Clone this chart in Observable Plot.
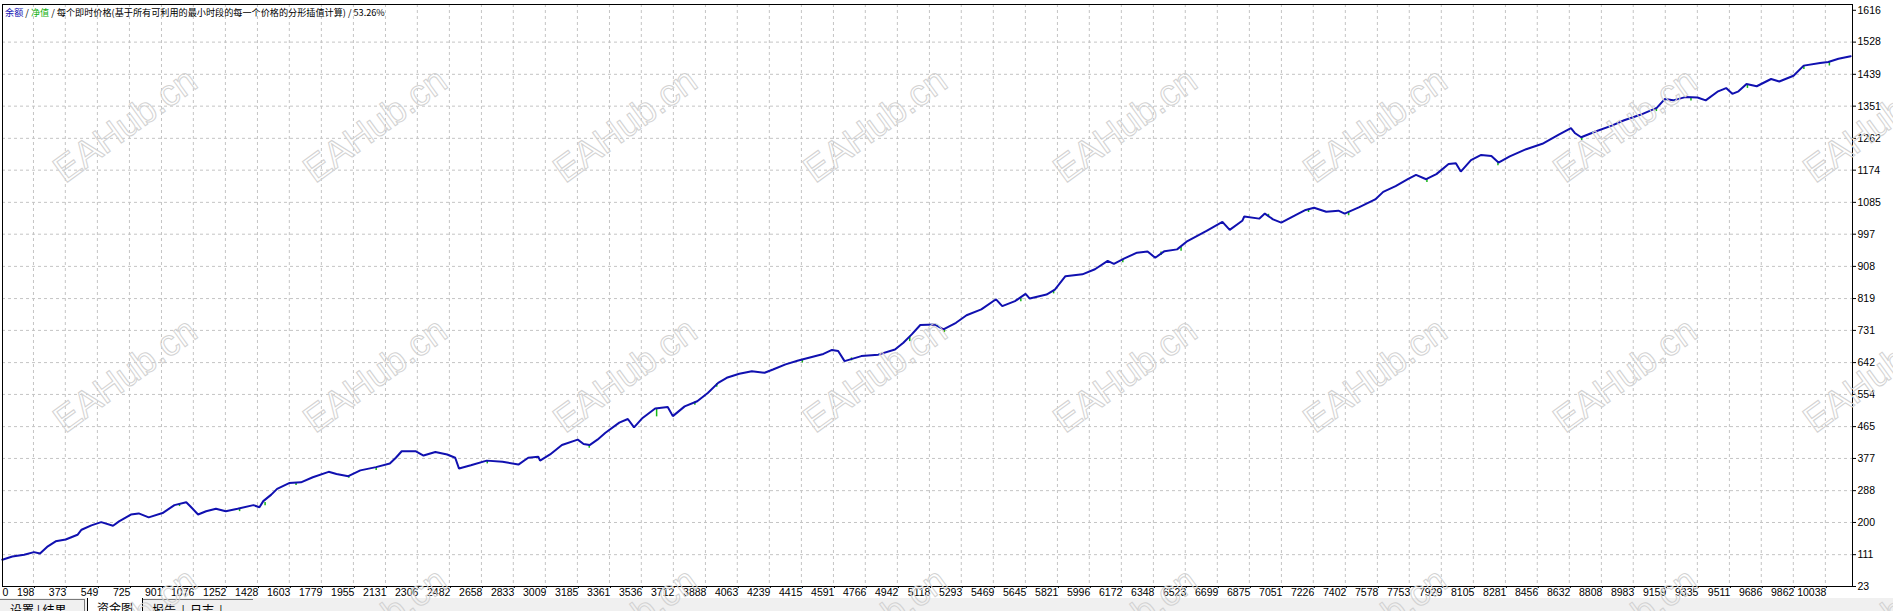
<!DOCTYPE html>
<html>
<head>
<meta charset="utf-8">
<script src="https://cdn.jsdelivr.net/npm/d3@7"></script>
<script src="https://cdn.jsdelivr.net/npm/@observablehq/plot@0.6"></script>
<style>
  html, body { margin: 0; padding: 0; background: #fff; }
  #wrap { position: relative; width: 1893px; height: 611px; overflow: hidden; background: #fff; }
  #chart { position: absolute; left: 0; top: 0; }
  #title { position: absolute; left: 5px; top: 7px; font-family: "Noto Sans CJK SC", sans-serif; font-size: 10px; line-height: 11px; white-space: nowrap; color: #000; }
  #tabs { position: absolute; left: 0; top: 598px; width: 1893px; height: 13px; background: #f0f0f0; }
  .tab { position: absolute; top: 1px; height: 16px; font-family: "Noto Sans CJK SC", sans-serif; font-size: 12px; line-height: 16px; padding-top: 2px; color: #000; white-space: pre; box-sizing: border-box; }
  #wm { position: absolute; left: 0; top: 0; pointer-events: none; }
</style>
</head>
<body>
<div id="wrap">
  <div id="chart"></div>
  <div id="title"><span style="color:#1414b4">余额</span> / <span style="color:#10b010">净值</span> / 每个即时价格(基于所有可利用的最小时段的每一个价格的分形插值计算) / 53.26%</div>
  <div id="tabs">
    <div class="tab" style="left:0;width:85px;border-top:1px solid #7a7a7a;border-right:1px solid #7a7a7a;padding-left:10px;">设置 | 结果</div>
    <div class="tab" style="left:87px;top:0;width:56px;height:17px;background:#fff;border-left:1px solid #000;border-right:1px solid #000;padding-left:9px;">资金图</div>
    <div class="tab" style="left:143px;width:110px;border-top:1px solid #7a7a7a;padding-left:9px;">报告  |  日志  |</div>
  </div>
</div>
<script>
// ---------- data ----------
const balanceX = [
  27, 82, 147, 201, 234, 277, 320, 375, 440, 462, 516, 570, 635, 668, 733, 776, 831, 907, 972, 1037,
  1059, 1102, 1146, 1200, 1254, 1319, 1406, 1439, 1460, 1504, 1536, 1602, 1667, 1732, 1819, 1862, 1927, 1993, 2079, 2155,
  2188, 2220, 2296, 2340, 2405, 2470, 2514, 2535, 2600, 2687, 2774, 2861, 2915, 2970, 2980, 3035, 3100, 3187, 3219, 3252,
  3295, 3339, 3415, 3462, 3496, 3543, 3612, 3681, 3709, 3774, 3843, 3901, 3958, 4005, 4074, 4143, 4213, 4259, 4328, 4398,
  4467, 4536, 4583, 4617, 4652, 4744, 4837, 4929, 4975, 5021, 5068, 5149, 5195, 5264, 5322, 5403, 5484, 5518, 5588, 5646,
  5669, 5761, 5807, 5865, 5958, 6027, 6097, 6131, 6189, 6258, 6316, 6358, 6409, 6478, 6535, 6640, 6727, 6767, 6836, 6847,
  6929, 6960, 7005, 7050, 7118, 7184, 7230, 7297, 7364, 7398, 7476, 7566, 7610, 7678, 7745, 7790, 7846, 7902, 7969, 8009,
  8036, 8092, 8148, 8204, 8243, 8305, 8395, 8484, 8574, 8641, 8664, 8697, 8776, 8865, 8933, 9022, 9112, 9157, 9202, 9269,
  9336, 9381, 9449, 9493, 9527, 9561, 9605, 9661, 9740, 9785, 9863, 9919, 10009, 10054, 10110, 10177
];
const balanceV = [
  97, 106, 111, 118, 114, 134, 148, 153, 166, 180, 192, 201, 191, 203, 222, 225, 214, 226, 248, 256,
  245, 222, 231, 238, 231, 238, 248, 242, 259, 277, 293, 309, 311, 325, 340, 334, 328, 344, 353, 363,
  379, 397, 397, 385, 395, 388, 379, 349, 358, 371, 368, 360, 379, 382, 371, 388, 414, 429, 417, 414,
  429, 448, 476, 486, 463, 489, 515, 519, 494, 521, 535, 558, 586, 600, 611, 618, 614, 623, 637, 648,
  657, 666, 677, 674, 646, 660, 664, 678, 697, 720, 746, 747, 734, 752, 773, 789, 817, 798, 812, 832,
  819, 830, 844, 881, 886, 900, 923, 915, 930, 946, 949, 932, 950, 955, 978, 1006, 1031, 1009, 1034, 1046,
  1040, 1054, 1038, 1029, 1047, 1064, 1070, 1059, 1062, 1054, 1071, 1093, 1114, 1130, 1149, 1161, 1149, 1163, 1191, 1193,
  1170, 1202, 1216, 1213, 1195, 1212, 1232, 1247, 1272, 1290, 1276, 1265, 1281, 1297, 1312, 1327, 1346, 1371, 1367, 1376,
  1375, 1367, 1392, 1401, 1385, 1392, 1412, 1406, 1426, 1419, 1435, 1463, 1470, 1473, 1482, 1489
];
// equity dips below the balance line (green spikes)
const dipX      = [1000, 1330, 1470, 1640, 1930, 2080, 2690, 3250, 3620, 3830, 3950, 4420, 4690, 5010, 5200, 5620, 5800, 6180, 6390, 6500, 6980, 7200, 7420, 7850, 8240, 8700, 9110, 9300, 9610, 9920, 10060];
const dipTop    = [252, 238, 255, 310, 330, 352, 370, 414, 515, 533, 584, 650, 655, 712, 735, 820, 842, 928, 948, 960, 1052, 1066, 1058, 1150, 1196, 1266, 1346, 1375, 1410, 1462, 1472];
const dipBottom = [244, 230, 246, 302, 322, 344, 362, 405, 492, 524, 574, 641, 647, 700, 725, 810, 832, 918, 938, 950, 1043, 1057, 1048, 1140, 1186, 1256, 1336, 1365, 1400, 1452, 1462];

const xTickLabels = [198, 373, 549, 725, 901, 1076, 1252, 1428, 1603, 1779, 1955, 2131, 2306, 2482, 2658, 2833, 3009, 3185, 3361, 3536,
  3712, 3888, 4063, 4239, 4415, 4591, 4766, 4942, 5118, 5293, 5469, 5645, 5821, 5996, 6172, 6348, 6523, 6699, 6875, 7051,
  7226, 7402, 7578, 7753, 7929, 8105, 8281, 8456, 8632, 8808, 8983, 9159, 9335, 9511, 9686, 9862, 10038];
const yTickLabels = [23, 111, 200, 288, 377, 465, 554, 642, 731, 819, 908, 997, 1085, 1174, 1262, 1351, 1439, 1528, 1616];
const xDomain = [28, 10187];
const yDomain = [23, 1632];
const firstXLabel = "0";

const watermarkText = "EAHub.cn";
const wmCols = [0, 1, 2, 3, 4, 5, 6, 7];
const wmRows = [0, 1, 2];

// ---------- build ----------
const balance = balanceX.map((x, i) => ({x, v: balanceV[i]}));
const dips = dipX.map((x, i) => ({x, top: dipTop[i], bottom: dipBottom[i]}));
const yGrid = yTickLabels.filter(v => v > yDomain[0] && v < yTickLabels[yTickLabels.length - 1]);

const FONT = "'Liberation Sans', Arial, sans-serif";
const gridStyle = {stroke: "#c4c4c4", strokeOpacity: 1, strokeWidth: 1, strokeDasharray: "3,3"};

const chart = Plot.plot({
  width: 1893,
  height: 598,
  marginLeft: 2,
  marginRight: 41,
  marginTop: 4,
  marginBottom: 12,
  style: {fontFamily: FONT, fontSize: "10.5px", color: "#000", background: "transparent", overflow: "visible"},
  x: {type: "linear", domain: xDomain, label: null},
  y: {type: "linear", domain: yDomain, label: null},
  marks: [
    Plot.gridX(xTickLabels, gridStyle),
    Plot.gridY(yGrid, gridStyle),
    Plot.ruleX(dips, {x: "x", y1: "top", y2: "bottom", stroke: "#18b818", strokeWidth: 1.5}),
    Plot.line(balance, {x: "x", y: "v", stroke: "#1010b0", strokeWidth: 2, strokeLinejoin: "miter"}),
    Plot.frame({stroke: "#000", strokeWidth: 1}),
    Plot.axisX(xTickLabels, {anchor: "bottom", label: null, tickSize: 2, tickPadding: 0, textAnchor: "end", dx: 1, tickFormat: d => String(d), fill: "#000", stroke: "#000"}),
    Plot.axisY(yTickLabels, {anchor: "right", label: null, tickSize: 3, tickPadding: 2, textAnchor: "start", tickFormat: d => String(d), fill: "#000", stroke: "#000"}),
    Plot.text([firstXLabel], {x: () => xDomain[0], text: d => d, frameAnchor: "bottom", textAnchor: "start", lineAnchor: "top", dy: 2, dx: 0, fill: "#000"})
  ]
});
document.getElementById("chart").appendChild(chart);

// fit the title text to the reference width (about 380px)
const titleEl = document.getElementById("title");
const tw = titleEl.getBoundingClientRect().width;
if (tw > 0) {
  const fs = 10 * 380 / tw;
  titleEl.style.fontSize = fs.toFixed(2) + "px";
}

// watermark overlay
const wm = d3.select("#wrap").append("svg")
  .attr("id", "wm").attr("width", 1893).attr("height", 611);
for (const j of wmRows) {
  for (const i of wmCols) {
    const cx = 125 + 250 * i, cy = 125 + 250 * j;
    wm.append("text")
      .attr("x", cx).attr("y", cy)
      .attr("transform", `rotate(-36 ${cx} ${cy})`)
      .attr("text-anchor", "middle")
      .attr("dominant-baseline", "central")
      .attr("font-family", "'Liberation Sans', Arial, sans-serif")
      .attr("font-size", 37)
      .attr("fill", "none")
      .attr("stroke", "#d2d2d2")
      .attr("stroke-width", 1)
      .text(watermarkText);
  }
}
</script>
</body>
</html>
